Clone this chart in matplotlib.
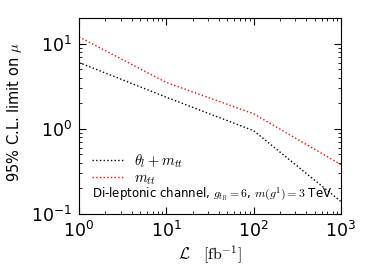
import matplotlib
matplotlib.use("Agg")
import matplotlib.pyplot as plt

lumi = [1, 10, 100, 1000]
limit_theta_mtt = [6.0, 2.35, 0.95, 0.14]
limit_mtt = [12.0, 3.5, 1.5, 0.38]

plt.rcParams["mathtext.fontset"] = "cm"

fig = plt.figure(figsize=(3.74, 2.80), dpi=100)
ax = fig.add_axes([79 / 374, 1 - 214 / 280, (341 - 79) / 374, (214 - 18) / 280])

ax.plot(lumi, limit_theta_mtt, color="black", linestyle=":", linewidth=1.0,
        label=r"$\theta_l + m_{tt}$")
ax.plot(lumi, limit_mtt, color="red", linestyle=":", linewidth=1.0,
        label=r"$m_{tt}$")

ax.set_xscale("log")
ax.set_yscale("log")
ax.set_xlim(1, 1000)
ax.set_ylim(0.1, 20)

ax.tick_params(which="both", direction="in", top=True, right=True, labelsize=12.5)
ax.tick_params(which="major", length=5, pad=5)
ax.tick_params(which="minor", length=2.5)

ax.set_ylabel(r"95% C.L. limit on $\mu$", fontsize=10.5)
ax.yaxis.set_label_coords(-0.21, 0.52)
ax.set_xlabel(r"$\mathcal{L}\quad[\mathrm{fb}^{-1}]$", fontsize=11.5, labelpad=2)

ax.legend(loc="lower left", bbox_to_anchor=(0.05, 0.14), frameon=False, fontsize=10.5,
          handlelength=2.1, labelspacing=0.0, borderpad=0.0, borderaxespad=0.0)
ax.text(0.05, 0.1, r"Di-leptonic channel, $g_{t_R}=6$, $m(g^1)=3$ TeV",
        transform=ax.transAxes, fontsize=8.5, va="center")

fig.savefig("out.png", dpi=100)
